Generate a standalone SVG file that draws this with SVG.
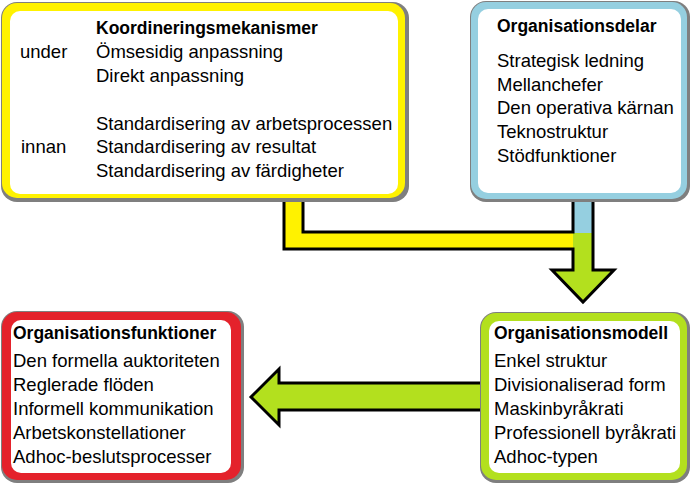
<svg xmlns="http://www.w3.org/2000/svg" width="690" height="483" viewBox="0 0 690 483">
<style>
text{font-family:"Liberation Sans",Arial,sans-serif;font-size:18.5px;fill:#000}
.h{font-weight:bold;font-size:17.5px}
.sh{fill:#7f7f7f}
.wh{fill:#fff}
.ln{fill:none;stroke:#000;stroke-width:3;stroke-linejoin:miter}
</style>
<rect width="690" height="483" fill="#fff"/>
<g id="connectors">
<polygon points="284,199 303,199 303,232 574,232 574,249 284,249" fill="#fff200"/>
<rect x="573" y="199" width="20" height="34" fill="#95cfe0"/>
<polygon points="573,233 593,233 593,270 614,270 583,302 552,270 573,270" fill="#b3e01e"/>
<polyline class="ln" points="284,199 284,249 573,249 573,270 552,270 583,302 614,270 593,270 593,199"/>
<polyline class="ln" points="303,199 303,232 573,232 573,199"/>
<polygon points="482,383 279,383 279,369 251,397 279,425 279,410 482,410" fill="#b3e01e"/>
<polyline class="ln" points="482,383 279,383 279,369 251,397 279,425 279,410 482,410"/>
</g>
<g id="koordineringsmekanismer">
<rect class="sh" x="1" y="2" width="408" height="200" rx="16"/>
<rect x="2" y="3" width="403" height="195" rx="15" fill="#fff200"/>
<rect class="wh" x="10" y="11" width="388" height="183" rx="10"/>
<text class="h" x="96" y="34">Koordineringsmekanismer</text>
<text x="20" y="58">under</text>
<text x="96" y="58">Ömsesidig anpassning</text>
<text x="96" y="82">Direkt anpassning</text>
<text x="96" y="130">Standardisering av arbetsprocessen</text>
<text x="21" y="153">innan</text>
<text x="96" y="153">Standardisering av resultat</text>
<text x="96" y="177">Standardisering av färdigheter</text>
</g>
<g id="organisationsdelar">
<rect class="sh" x="470" y="1" width="220" height="201" rx="16"/>
<rect x="471" y="2" width="216" height="197" rx="15" fill="#95cfe0"/>
<rect class="wh" x="478" y="9" width="203" height="184" rx="10"/>
<text class="h" x="497" y="32">Organisationsdelar</text>
<text x="497" y="67">Strategisk ledning</text>
<text x="497" y="91">Mellanchefer</text>
<text x="497" y="114">Den operativa kärnan</text>
<text x="497" y="138">Teknostruktur</text>
<text x="497" y="162">Stödfunktioner</text>
</g>
<g id="organisationsfunktioner">
<rect class="sh" x="1" y="311" width="243" height="172" rx="16"/>
<rect x="2" y="312" width="239" height="168" rx="15" fill="#e4222b"/>
<rect class="wh" x="11" y="320" width="220" height="153" rx="10"/>
<text class="h" x="13" y="339">Organisationsfunktioner</text>
<text x="13" y="367">Den formella auktoriteten</text>
<text x="13" y="391">Reglerade flöden</text>
<text x="13" y="415">Informell kommunikation</text>
<text x="13" y="439">Arbetskonstellationer</text>
<text x="13" y="463">Adhoc-beslutsprocesser</text>
</g>
<g id="organisationsmodell">
<rect class="sh" x="480" y="312" width="210" height="171" rx="16"/>
<rect x="481" y="313" width="206" height="167" rx="15" fill="#b3e01e"/>
<rect class="wh" x="489" y="321" width="191" height="152" rx="10"/>
<text class="h" x="494" y="339">Organisationsmodell</text>
<text x="494" y="367">Enkel struktur</text>
<text x="494" y="391">Divisionaliserad form</text>
<text x="494" y="415">Maskinbyråkrati</text>
<text x="494" y="439">Professionell byråkrati</text>
<text x="494" y="463">Adhoc-typen</text>
</g>
</svg>
